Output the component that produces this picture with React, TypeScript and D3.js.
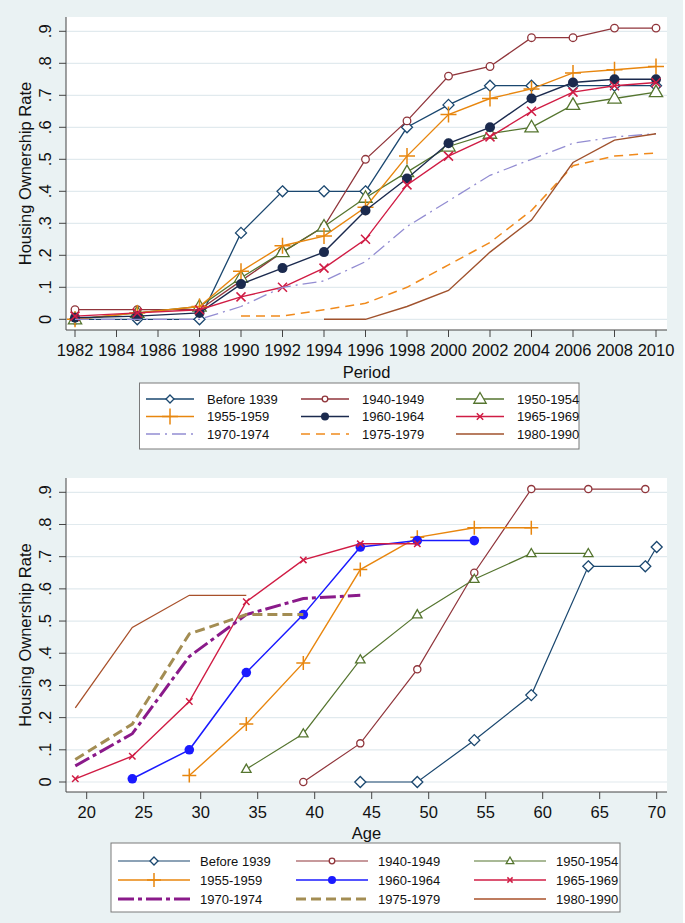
import * as d3 from 'd3';

// ---- data ----
const periods = [1982, 1985, 1988, 1990, 1992, 1994, 1996, 1998, 2000, 2002, 2004, 2006, 2008, 2010];
const periodTicks = [1982, 1984, 1986, 1988, 1990, 1992, 1994, 1996, 1998, 2000, 2002, 2004, 2006, 2008, 2010];
const ages = [19, 24, 29, 34, 39, 44, 49, 54, 59, 64, 69, 70];
const ageTicks = [20, 25, 30, 35, 40, 45, 50, 55, 60, 65, 70];
const yTicks = [0, 0.1, 0.2, 0.3, 0.4, 0.5, 0.6, 0.7, 0.8, 0.9];
const yTickLabels = ['0', '.1', '.2', '.3', '.4', '.5', '.6', '.7', '.8', '.9'];
const cohorts = ['Before 1939', '1940-1949', '1950-1954', '1955-1959', '1960-1964', '1965-1969', '1970-1974', '1975-1979', '1980-1990'];

type V = number | null;
const n = null;
// by period
const pBefore1939: V[] = [0, 0, 0, 0.27, 0.40, 0.40, 0.40, 0.60, 0.67, 0.73, 0.73, 0.73, 0.73, 0.73];
const p1940: V[] = [0.03, 0.03, 0.03, 0.12, 0.21, 0.29, 0.50, 0.62, 0.76, 0.79, 0.88, 0.88, 0.91, 0.91];
const p1950: V[] = [0, 0.02, 0.04, 0.13, 0.21, 0.29, 0.38, 0.46, 0.54, 0.58, 0.60, 0.67, 0.69, 0.71];
const p1955: V[] = [0, 0.02, 0.04, 0.15, 0.23, 0.26, 0.35, 0.51, 0.64, 0.69, 0.72, 0.77, 0.78, 0.79];
const p1960: V[] = [0.005, 0.01, 0.02, 0.11, 0.16, 0.21, 0.34, 0.44, 0.55, 0.60, 0.69, 0.74, 0.75, 0.75];
const p1965: V[] = [0.01, 0.02, 0.03, 0.07, 0.10, 0.16, 0.25, 0.42, 0.51, 0.57, 0.65, 0.71, 0.73, 0.74];
const p1970: V[] = [0, 0, 0, 0.04, 0.10, 0.12, 0.18, 0.29, 0.37, 0.45, 0.50, 0.55, 0.57, 0.58];
const p1975: V[] = [n, n, n, 0.01, 0.01, 0.03, 0.05, 0.10, 0.17, 0.24, 0.34, 0.48, 0.51, 0.52];
const p1980: V[] = [n, n, n, n, n, 0, 0, 0.04, 0.09, 0.21, 0.31, 0.49, 0.56, 0.58];
// by age
const aBefore1939: V[] = [n, n, n, n, n, 0, 0, 0.13, 0.27, 0.67, 0.67, 0.73];
const a1940: V[] = [n, n, n, n, 0, 0.12, 0.35, 0.65, 0.91, 0.91, 0.91, n];
const a1950: V[] = [n, n, n, 0.04, 0.15, 0.38, 0.52, 0.63, 0.71, 0.71, n, n];
const a1955: V[] = [n, n, 0.02, 0.18, 0.37, 0.66, 0.76, 0.79, 0.79, n, n, n];
const a1960: V[] = [n, 0.01, 0.10, 0.34, 0.52, 0.73, 0.75, 0.75, n, n, n, n];
const a1965: V[] = [0.01, 0.08, 0.25, 0.56, 0.69, 0.74, 0.74, n, n, n, n, n];
const a1970: V[] = [0.05, 0.15, 0.39, 0.52, 0.57, 0.58, n, n, n, n, n, n];
const a1975: V[] = [0.07, 0.18, 0.46, 0.52, 0.52, n, n, n, n, n, n, n];
const a1980: V[] = [0.23, 0.48, 0.58, 0.58, n, n, n, n, n, n, n, n];

type Style = { color: string; marker: string | null; size: number; legendSize: number; width: number; dash?: string };

const topStyles: Style[] = [
  { color: '#1a476f', marker: 'diamond', size: 5.5, legendSize: 4, width: 1.3 },
  { color: '#90353b', marker: 'circleHollow', size: 3.8, legendSize: 2.8, width: 1.3 },
  { color: '#55752f', marker: 'triangle', size: 7, legendSize: 6.5, width: 1.3 },
  { color: '#e8860e', marker: 'plus', size: 8, legendSize: 8, width: 1.4 },
  { color: '#1b2a4e', marker: 'circle', size: 5, legendSize: 4, width: 1.4 },
  { color: '#d01c44', marker: 'x', size: 4.5, legendSize: 3.2, width: 1.4 },
  { color: '#938dd2', marker: null, size: 0, legendSize: 0, width: 1.3, dash: '14,5,2,5' },
  { color: '#f08a1c', marker: null, size: 0, legendSize: 0, width: 1.5, dash: '9,6' },
  { color: '#a0522d', marker: null, size: 0, legendSize: 0, width: 1.4 },
];
const bottomStyles: Style[] = [
  { color: '#1a476f', marker: 'diamond', size: 5.5, legendSize: 4, width: 1.2 },
  { color: '#90353b', marker: 'circleHollow', size: 3.6, legendSize: 2.8, width: 1.2 },
  { color: '#55752f', marker: 'triangle', size: 5, legendSize: 4, width: 1.2 },
  { color: '#e8860e', marker: 'plus', size: 7, legendSize: 7, width: 1.4 },
  { color: '#1a1aff', marker: 'circle', size: 4.8, legendSize: 4, width: 1.5 },
  { color: '#d01c44', marker: 'x', size: 3.2, legendSize: 2.6, width: 1.4 },
  { color: '#8a1a8a', marker: null, size: 0, legendSize: 0, width: 3, dash: '16,4,4,4' },
  { color: '#a38d53', marker: null, size: 0, legendSize: 0, width: 3, dash: '10,5' },
  { color: '#a8502a', marker: null, size: 0, legendSize: 0, width: 1.3 },
];

const BG = '#eaf2f3';
const FONT = '"Liberation Sans", Arial, sans-serif';

function Marker({ type, x, y, color, size }: { type: string | null; x: number; y: number; color: string; size: number }) {
  if (!type) return null;
  const s = size;
  if (type === 'diamond')
    return <path d={`M${x},${y - s}L${x + s},${y}L${x},${y + s}L${x - s},${y}Z`} fill="white" stroke={color} strokeWidth={1.3} />;
  if (type === 'circleHollow') return <circle cx={x} cy={y} r={s} fill="white" stroke={color} strokeWidth={1.3} />;
  if (type === 'circle') return <circle cx={x} cy={y} r={s} fill={color} />;
  if (type === 'triangle')
    return <path d={`M${x},${y - s}L${x + s * 0.95},${y + s * 0.65}L${x - s * 0.95},${y + s * 0.65}Z`} fill="white" stroke={color} strokeWidth={1.3} />;
  if (type === 'plus')
    return <path d={`M${x - s},${y}H${x + s}M${x},${y - s}V${y + s}`} stroke={color} strokeWidth={1.5} />;
  if (type === 'x')
    return <path d={`M${x - s},${y - s}L${x + s},${y + s}M${x - s},${y + s}L${x + s},${y - s}`} stroke={color} strokeWidth={1.5} />;
  return null;
}

interface PanelProps {
  xs: number[];
  series: V[][];
  styles: Style[];
  xTicks: number[];
  xDomain: [number, number];
  xRange: [number, number];
  plot: { left: number; right: number; top: number; bottom: number };
  yZero: number;
  yNine: number;
  tickLabelY: number;
  xTitle: string;
  xTitleY: number;
  legend: { x0: number; x1: number; y0: number; y1: number; lineX: number; lineLen: number; labelDx: number; colStep: number; rows: number[] };
}

function Panel(p: PanelProps) {
  const x = d3.scaleLinear(p.xDomain, p.xRange);
  const y = d3.scaleLinear([0, 0.9], [p.yZero, p.yNine]);
  const line = d3
    .line<[number, V]>()
    .defined((d) => d[1] !== null)
    .x((d) => x(d[0]))
    .y((d) => y(d[1] as number));
  const { left, right, top, bottom } = p.plot;
  const midX = (left + right) / 2;
  const midY = (top + bottom) / 2;
  return (
    <g fontFamily={FONT}>
      <rect x={left} y={top} width={right - left} height={bottom - top} fill="white" />
      {yTicks.map((t) => (
        <line key={t} x1={left} x2={right} y1={y(t)} y2={y(t)} stroke="#e1eaee" strokeWidth={1.2} />
      ))}
      {p.series.map((vals, i) => {
        const st = p.styles[i];
        const pts = p.xs.map((xv, j) => [xv, vals[j]] as [number, V]);
        return (
          <g key={i}>
            <path d={line(pts) || ''} fill="none" stroke={st.color} strokeWidth={st.width} strokeDasharray={st.dash} />
            {pts
              .filter((d) => d[1] !== null)
              .map((d, j) => (
                <Marker key={j} type={st.marker} x={x(d[0])} y={y(d[1] as number)} color={st.color} size={st.size} />
              ))}
          </g>
        );
      })}
      {/* axes */}
      <line x1={left} x2={left} y1={top} y2={bottom} stroke="#444" strokeWidth={1} />
      <line x1={left} x2={right} y1={bottom} y2={bottom} stroke="#444" strokeWidth={1} />
      {yTicks.map((t, i) => (
        <g key={t}>
          <line x1={left - 7} x2={left} y1={y(t)} y2={y(t)} stroke="#444" />
          <text transform={`translate(${left - 15},${y(t)}) rotate(-90)`} textAnchor="middle" fontSize={16.5} fill="#111">
            {yTickLabels[i]}
          </text>
        </g>
      ))}
      <text transform={`translate(${left - 35},${midY}) rotate(-90)`} textAnchor="middle" fontSize={16.5} fill="#111">
        Housing Ownership Rate
      </text>
      {p.xTicks.map((t) => (
        <g key={t}>
          <line x1={x(t)} x2={x(t)} y1={bottom} y2={bottom + 7} stroke="#444" />
          <text x={x(t)} y={p.tickLabelY} textAnchor="middle" dominantBaseline="central" fontSize={16.5} fill="#111">
            {t}
          </text>
        </g>
      ))}
      <text x={midX} y={p.xTitleY} textAnchor="middle" dominantBaseline="central" fontSize={16.5} fill="#111">
        {p.xTitle}
      </text>
      {/* legend */}
      <rect x={p.legend.x0} y={p.legend.y0} width={p.legend.x1 - p.legend.x0} height={p.legend.y1 - p.legend.y0} fill="white" stroke="#7a7a7a" strokeWidth={1} />
      {cohorts.map((c, i) => {
        const st = p.styles[i];
        const col = i % 3;
        const row = Math.floor(i / 3);
        const lx = p.legend.lineX + col * p.legend.colStep;
        const ly = p.legend.rows[row];
        return (
          <g key={c}>
            <line x1={lx} x2={lx + p.legend.lineLen} y1={ly} y2={ly} stroke={st.color} strokeWidth={st.width} strokeDasharray={st.dash} />
            <Marker type={st.marker} x={lx + p.legend.lineLen / 2} y={ly} color={st.color} size={st.legendSize} />
            <text x={lx + p.legend.lineLen + p.legend.labelDx} y={ly} dominantBaseline="central" fontSize={13} fill="#111">
              {c}
            </text>
          </g>
        );
      })}
    </g>
  );
}

export default function App() {
  const topSeries = [pBefore1939, p1940, p1950, p1955, p1960, p1965, p1970, p1975, p1980];
  const bottomSeries = [aBefore1939, a1940, a1950, a1955, a1960, a1965, a1970, a1975, a1980];
  return (
    <div style={{ position: 'absolute', left: 0, top: 0 }}>
      <svg width={685} height={923} style={{ display: 'block' }}>
        <rect x={0} y={0} width={685} height={923} fill="white" />
        <rect x={0} y={0} width={683} height={923} fill={BG} />
        <Panel
          xs={periods}
          series={topSeries}
          styles={topStyles}
          xTicks={periodTicks}
          xDomain={[1982, 2010]}
          xRange={[75, 656]}
          plot={{ left: 66, right: 667, top: 17, bottom: 330 }}
          yZero={319.3}
          yNine={31.3}
          tickLabelY={350}
          xTitle="Period"
          xTitleY={372}
          legend={{ x0: 139.5, x1: 579, y0: 383, y1: 449, lineX: 146, lineLen: 48, labelDx: 13, colStep: 155, rows: [399, 416.5, 434] }}
        />
        <Panel
          xs={ages}
          series={bottomSeries}
          styles={bottomStyles}
          xTicks={ageTicks}
          xDomain={[20, 70]}
          xRange={[86.7, 656.7]}
          plot={{ left: 66, right: 667, top: 478, bottom: 792 }}
          yZero={782}
          yNine={492.3}
          tickLabelY={812}
          xTitle="Age"
          xTitleY={833}
          legend={{ x0: 111, x1: 620, y0: 843, y1: 912, lineX: 118, lineLen: 72, labelDx: 10, colStep: 178, rows: [861, 880, 899] }}
        />
      </svg>
    </div>
  );
}
